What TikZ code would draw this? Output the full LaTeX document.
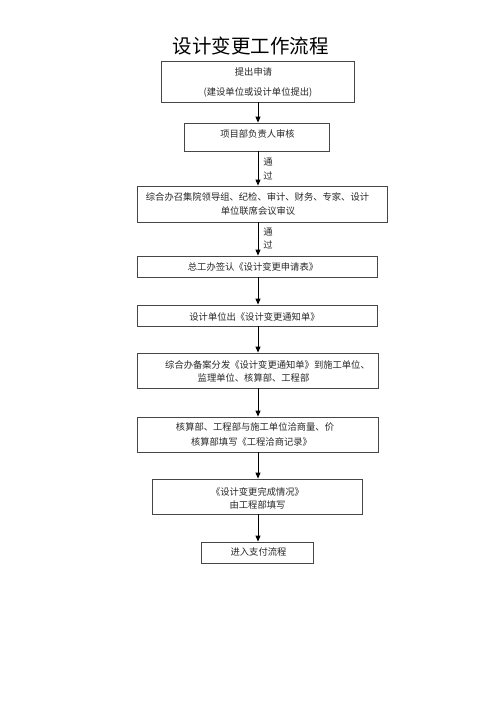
\documentclass[tikz,border=0pt]{standalone}
\usepackage{fontspec}
\setmainfont{Noto Sans CJK SC}
\usetikzlibrary{arrows.meta}
\definecolor{edge}{RGB}{70,70,70}
\tikzset{
  box/.style={draw=edge, line width=0.8pt, inner sep=0pt, rectangle},
  txt/.style={inner sep=0pt, font=\fontsize{9.3}{11}\selectfont, text=black!85},
  lbl/.style={inner sep=0pt, font=\fontsize{9.3}{11}\selectfont, text=black!85},
  arr/.style={draw=black, line width=0.9pt, -{Triangle[length=6pt,width=5pt]}}
}
\begin{document}
\begin{tikzpicture}[x=1pt,y=-1pt]
\useasboundingbox (0,0) rectangle (503,711);
\coordinate (ax) at (258,0);
\node[inner sep=0pt, font=\fontsize{19.5}{22}\selectfont] (title) at (250.5,46) {设计变更工作流程};

\node[box, minimum width=193pt, minimum height=41pt] (b1) at (257.5,81.5) {};
\node[box, minimum width=145pt, minimum height=28pt] (b2) at (256.5,137) {};
\node[box, minimum width=250pt, minimum height=36pt] (b3) at (262,204) {};
\node[box, minimum width=240pt, minimum height=21pt] (b4) at (257,266.5) {};
\node[box, minimum width=240pt, minimum height=21pt] (b5) at (257,315.5) {};
\node[box, minimum width=241pt, minimum height=35pt] (b6) at (257.5,370.5) {};
\node[box, minimum width=241pt, minimum height=35pt] (b7) at (257.5,434.5) {};
\node[box, minimum width=210pt, minimum height=35pt] (b8) at (257,496.5) {};
\node[box, minimum width=112pt, minimum height=21pt] (b9) at (257,552.5) {};

\node[txt] (t1a) at (253.5,72) {提出申请};
\node[txt] (t1b) at (258,92) {(建设单位或设计单位提出)};
\node[txt] (t2) at (257.5,134) {项目部负责人审核};
\node[txt] (t3a) at (257.5,197) {综合办召集院领导组、纪检、审计、财务、专家、设计};
\node[txt] (t3b) at (258,211) {单位联席会议审议};
\node[txt] (t4) at (253,267) {总工办签认《设计变更申请表》};
\node[txt] (t5) at (254.5,317) {设计单位出《设计变更通知单》};
\node[txt] (t6a) at (267.5,365) {综合办备案分发《设计变更通知单》到施工单位、};
\node[txt] (t6b) at (253.5,378) {监理单位、核算部、工程部};
\node[txt] (t7a) at (255,427) {核算部、工程部与施工单位洽商量、价};
\node[txt] (t7b) at (251.5,442) {核算部填写《工程洽商记录》};
\node[txt] (t8a) at (257.5,492) {《设计变更完成情况》};
\node[txt] (t8b) at (257.5,505) {由工程部填写};
\node[txt] (t9) at (258.5,552) {进入支付流程};

\node[lbl] (l1a) at (268,162) {通};
\node[lbl] (l1b) at (268,176) {过};
\node[lbl] (l2a) at (268,232) {通};
\node[lbl] (l2b) at (268,245) {过};

\draw[arr] (b1.south -| ax) -- (b2.north -| ax);
\draw[arr] (b2.south -| ax) -- (b3.north -| ax);
\draw[arr] (b3.south -| ax) -- (b4.north -| ax);
\draw[arr] (b4.south -| ax) -- (b5.north -| ax);
\draw[arr] (b5.south -| ax) -- (b6.north -| ax);
\draw[arr] (b6.south -| ax) -- (b7.north -| ax);
\draw[arr] (b7.south -| ax) -- (b8.north -| ax);
\draw[arr] (b8.south -| ax) -- (b9.north -| ax);
\end{tikzpicture}
\end{document}
